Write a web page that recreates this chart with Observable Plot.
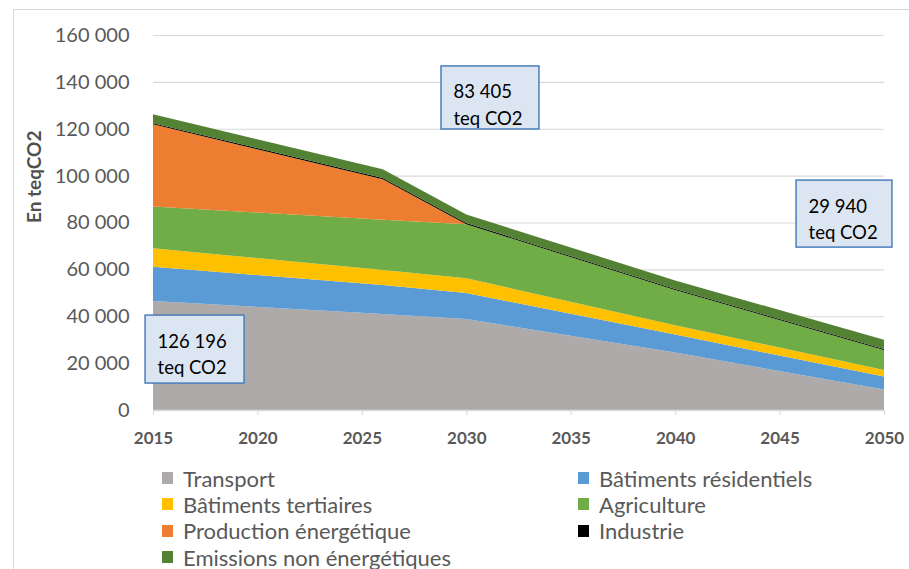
<!DOCTYPE html>
<html>
<head>
<meta charset="utf-8">
<script src="https://cdn.jsdelivr.net/npm/d3@7"></script>
<script src="https://cdn.jsdelivr.net/npm/@observablehq/plot@0.6"></script>
<style>
  html, body { margin: 0; padding: 0; overflow: hidden; background: #fff; width: 909px; height: 569px; }
  body { position: relative; font-family: Lato, "Open Sans", sans-serif; }
  #frame { position: absolute; left: 13px; top: 9px; width: 1000px; height: 1000px; border: 1px solid #d9d9d9; pointer-events: none; }
  #chart { position: absolute; left: 0; top: 0; }
  #legend { position: absolute; left: 162px; top: 465px; display: grid; grid-template-columns: 416px auto; grid-auto-rows: 26.3px; font-size: 22px; color: #595959; }
  .item { display: flex; align-items: center; white-space: nowrap; }
  .sw { width: 11px; height: 12px; margin-right: 10px; flex: none; }
</style>
</head>
<body>
<div id="chart"></div>
<div id="legend"></div>
<div id="frame"></div>
<script>
// ---- data ----
const years = [2015, 2026, 2030, 2040, 2050];
const sectors = ["Transport", "Bâtiments résidentiels", "Bâtiments tertiaires", "Agriculture",
                 "Production énergétique", "Industrie", "Emissions non énergétiques"];
const transport   = [46500, 41000, 38800, 24500, 8800];
const residentiel = [14600, 12300, 11100, 7700, 5500];
const tertiaire   = [7900, 6400, 6300, 4000, 2800];
const agriculture = [17800, 21500, 23100, 15000, 8500];
const production  = [35100, 17300, 0, 0, 0];
const industrie   = [450, 450, 450, 450, 450];
const nonEnergie  = [3846, 3750, 3655, 3650, 3890];
const colors = ["#aeaaaa", "#5b9bd5", "#ffc000", "#70ad47", "#ed7d31", "#000000", "#548235"];
const xTicks = [2015, 2020, 2025, 2030, 2035, 2040, 2045, 2050];
const yTicks = [0, 20000, 40000, 60000, 80000, 100000, 120000, 140000, 160000];
const annotLabels = ["126 196\nteq CO2", "83 405\nteq CO2", "29 940\nteq CO2"];
// annotation boxes placed in data coordinates
const annotX1 = [2014.62, 2028.79, 2045.79];
const annotX2 = [2019.36, 2033.48, 2050.38];
const annotY1 = [40500, 146800, 98100];
const annotY2 = [11500, 119900, 69500];

// ---- build ----
const series = [transport, residentiel, tertiaire, agriculture, production, industrie, nonEnergie];
const rows = sectors.flatMap((s, i) => years.map((yr, j) => ({sector: s, year: yr, value: series[i][j]})));
const annots = annotLabels.map((t, i) => ({label: t, x1: annotX1[i], x2: annotX2[i], y1: annotY1[i], y2: annotY2[i]}));

const frFmt = d3.formatLocale({decimal: ",", thousands: " ", grouping: [3], currency: ["", " €"]}).format(",");

const chart = Plot.plot({
  width: 909,
  height: 450,
  marginLeft: 153,
  marginRight: 25,
  marginTop: 35,
  marginBottom: 40,
  style: {fontFamily: "Lato, 'Open Sans', sans-serif", background: "transparent"},
  x: {domain: [2015, 2050]},
  y: {domain: [0, 160000]},
  color: {domain: sectors, range: colors},
  marks: [
    Plot.gridY(yTicks, {stroke: "#d9d9d9", strokeOpacity: 1, strokeWidth: 1.2}),
    Plot.areaY(rows, {x: "year", y: "value", z: "sector", fill: "sector", order: sectors, curve: "linear"}),
    Plot.ruleY([0], {stroke: "#d9d9d9", strokeWidth: 1.5}),
    Plot.axisX(xTicks, {tickFormat: "d", tickSize: 5, tickPadding: 16, stroke: "#d9d9d9", fill: "#595959",
      fontWeight: "bold", fontSize: 17, label: null}),
    Plot.axisY(yTicks, {tickFormat: frFmt, tickSize: 0, tickPadding: 24, fill: "#595959", fontSize: 20, label: null}),
    Plot.text(["En teqCO2"], {frameAnchor: "left", dx: -119, rotate: -90, fontWeight: "bold", fontSize: 19, fill: "#505050"}),
    Plot.rect(annots, {x1: "x1", x2: "x2", y1: "y1", y2: "y2", fill: "#dce6f2", stroke: "#4a7ebb", strokeWidth: 1.5}),
    Plot.text(annots, {x: "x1", y: "y1", text: "label", textAnchor: "start", lineAnchor: "top", dx: 12, dy: 13,
      fontSize: 18.5, lineHeight: 1.45, fill: "#000"})
  ]
});
document.getElementById("chart").appendChild(chart);

const legend = document.getElementById("legend");
sectors.forEach((s, i) => {
  const d = document.createElement("div");
  d.className = "item";
  d.innerHTML = `<span class="sw" style="background:${colors[i]}"></span><span>${s}</span>`;
  legend.appendChild(d);
});
</script>
</body>
</html>
